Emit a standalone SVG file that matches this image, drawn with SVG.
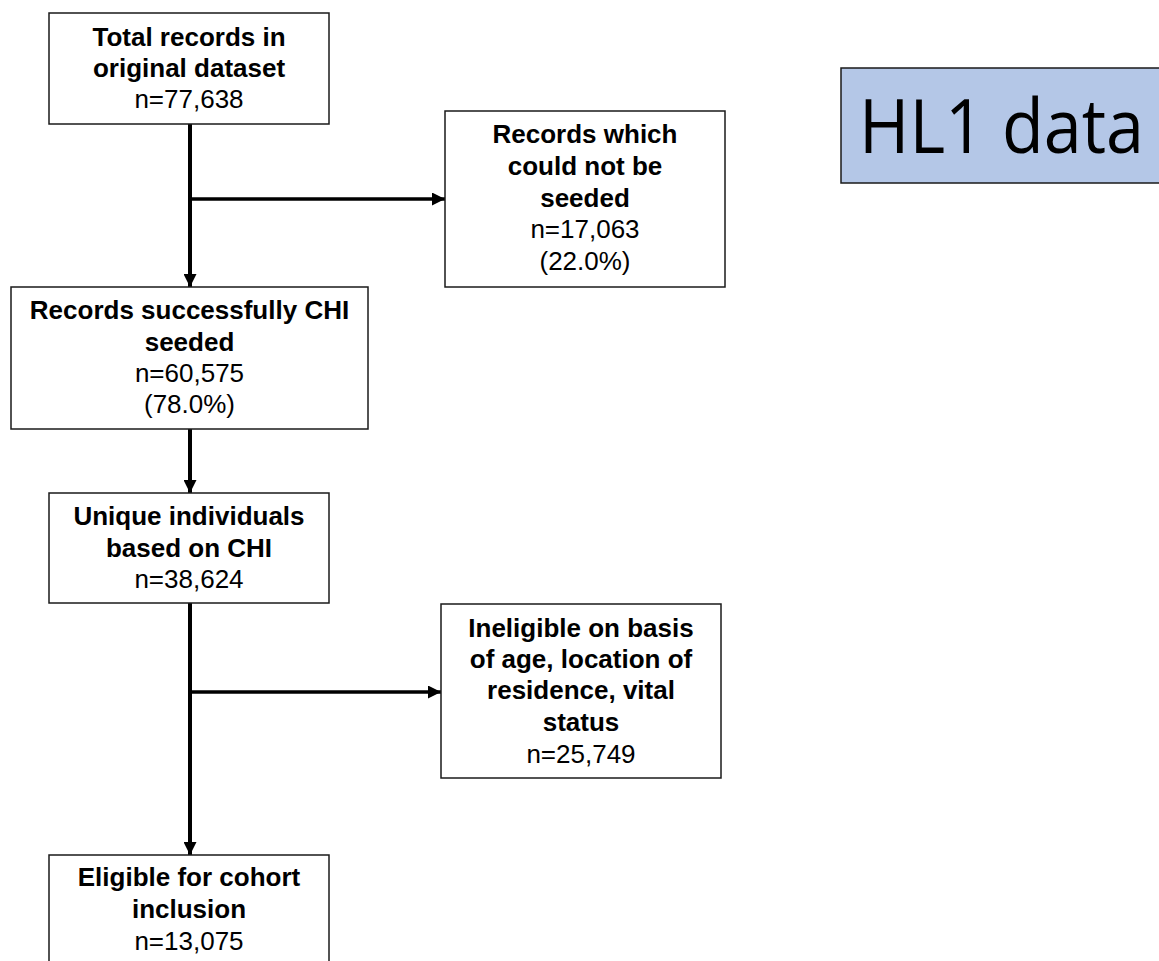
<svg xmlns="http://www.w3.org/2000/svg" width="1159" height="961" viewBox="0 0 1159 961">
  <defs>
    <marker id="arrow" viewBox="0 0 13 13" refX="13" refY="6.5" markerWidth="13" markerHeight="13" markerUnits="userSpaceOnUse" orient="auto">
      <path d="M0,0 L13,6.5 L0,13 Z" fill="#000"/>
    </marker>
    <style>
      .box { fill: #fff; stroke: #1a1a1a; stroke-width: 1.5; }
      .tag { fill: #b4c7e7; stroke: #1a1a1a; stroke-width: 1.5; }
      .t { font-family: "Liberation Sans", Arial, sans-serif; font-size: 26px; fill: #000; text-anchor: middle; }
      .b { font-weight: bold; }
      .tagtext { font-family: "Open Sans", "Noto Sans", sans-serif; font-size: 75px; fill: #000; }
      .link { stroke: #000; stroke-width: 4; fill: none; }
      .branch { stroke: #000; stroke-width: 3.5; fill: none; }
    </style>
  </defs>
  <rect width="1159" height="961" fill="#fff"/>

  <g id="connectors">
    <line class="link" x1="190" y1="124" x2="190" y2="287" marker-end="url(#arrow)"/>
    <line class="branch" x1="192" y1="199" x2="445" y2="199" marker-end="url(#arrow)"/>
    <line class="link" x1="190" y1="429" x2="190" y2="493" marker-end="url(#arrow)"/>
    <line class="link" x1="190" y1="603" x2="190" y2="855" marker-end="url(#arrow)"/>
    <line class="branch" x1="192" y1="692" x2="441" y2="692" marker-end="url(#arrow)"/>
  </g>

  <g id="total">
    <rect class="box" x="49" y="13" width="280" height="111"/>
    <text class="t b" x="189" y="46">Total records in</text>
    <text class="t b" x="189" y="77">original dataset</text>
    <text class="t" x="189" y="108">n=77,638</text>
  </g>

  <g id="not-seeded">
    <rect class="box" x="445" y="111" width="280" height="176"/>
    <text class="t b" x="585" y="143">Records which</text>
    <text class="t b" x="585" y="175">could not be</text>
    <text class="t b" x="585" y="207">seeded</text>
    <text class="t" x="585" y="238">n=17,063</text>
    <text class="t" x="585" y="270">(22.0%)</text>
  </g>

  <g id="seeded">
    <rect class="box" x="11" y="287" width="357" height="142"/>
    <text class="t b" x="189.5" y="319">Records successfully CHI</text>
    <text class="t b" x="189.5" y="351">seeded</text>
    <text class="t" x="189.5" y="382">n=60,575</text>
    <text class="t" x="189.5" y="413">(78.0%)</text>
  </g>

  <g id="unique">
    <rect class="box" x="49" y="493" width="280" height="110"/>
    <text class="t b" x="189" y="525">Unique individuals</text>
    <text class="t b" x="189" y="557">based on CHI</text>
    <text class="t" x="189" y="588">n=38,624</text>
  </g>

  <g id="ineligible">
    <rect class="box" x="441" y="604" width="280" height="174"/>
    <text class="t b" x="581" y="637">Ineligible on basis</text>
    <text class="t b" x="581" y="668">of age, location of</text>
    <text class="t b" x="581" y="699">residence, vital</text>
    <text class="t b" x="581" y="731">status</text>
    <text class="t" x="581" y="763">n=25,749</text>
  </g>

  <g id="eligible">
    <rect class="box" x="49" y="855" width="280" height="115"/>
    <text class="t b" x="189" y="886">Eligible for cohort</text>
    <text class="t b" x="189" y="918">inclusion</text>
    <text class="t" x="189" y="950">n=13,075</text>
  </g>

  <g id="dataset-tag">
    <rect class="tag" x="841" y="68" width="330" height="115"/>
    <text class="tagtext" x="859" y="153" textLength="285" lengthAdjust="spacingAndGlyphs">HL1 data</text>
  </g>
</svg>
